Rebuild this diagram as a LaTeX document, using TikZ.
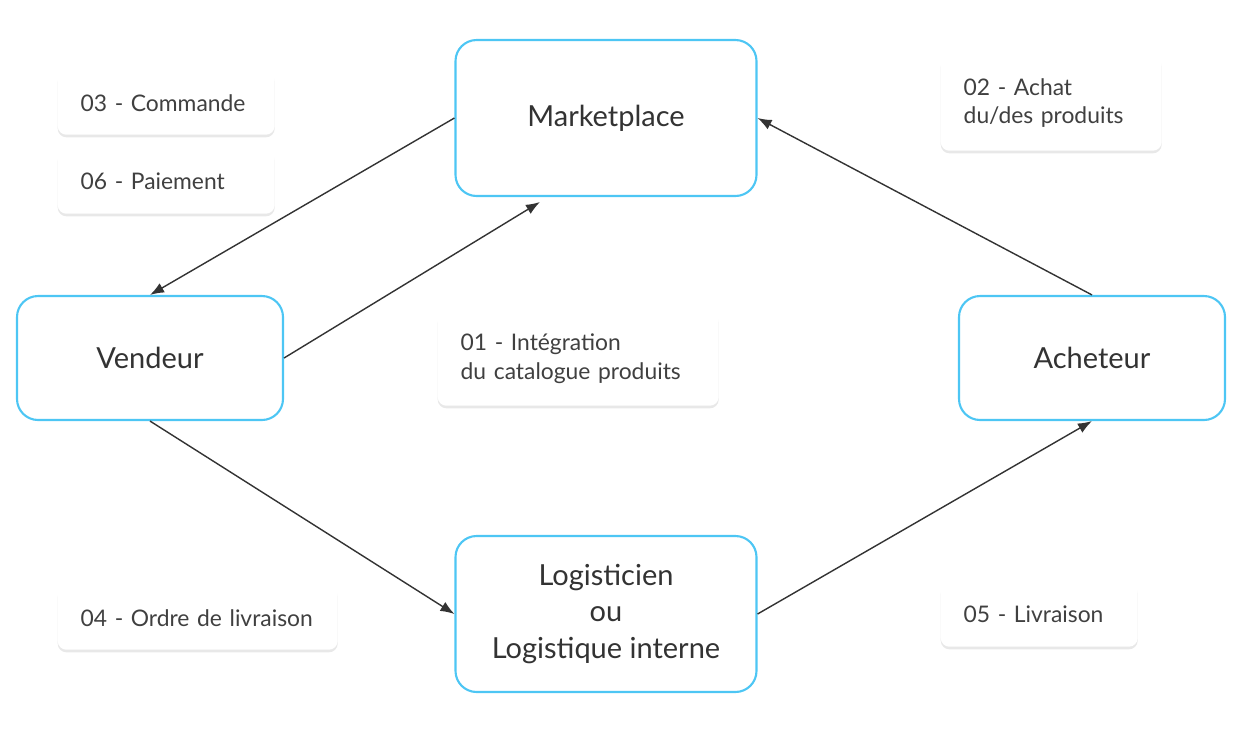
\documentclass[tikz,border=0pt]{standalone}
\usepackage{fontspec}
\setmainfont{Lato}
\usetikzlibrary{positioning,shadows,arrows.meta}

\begin{document}
\begin{tikzpicture}[%
		x=0.02cm,
		y=-0.02cm,
		->,
		>={Latex[length=8pt,width=6pt]},
		thick,
		actor/.style={%
			draw=cyan!70!white,
			line width=1.2pt,
			rounded corners=12pt,
			align=center,
			font=\fontsize{16.5}{20.5}\selectfont,
			text=black!80,
			fill=white
		},
		etape/.style={%
			rounded corners=5pt,
			fill=white,
			align=left,
			anchor=north west,
			inner xsep=23*0.02cm,
			font=\fontsize{13}{16}\selectfont,
			text=black!75,
			drop shadow={opacity=0.18,shadow xshift=0pt,shadow yshift=-1.5pt}
		}
		]
		\useasboundingbox (0,0) rectangle (1245,728);
		\node[actor, minimum width=301*0.02cm, minimum height=156*0.02cm] (market) at (606,118) {Marketplace};
		\node[actor, minimum width=266*0.02cm, minimum height=124*0.02cm] (vendeur) at (150,358) {Vendeur};
		\node[actor, minimum width=266*0.02cm, minimum height=124*0.02cm] (acheteur) at (1092,358) {Acheteur};
		\node[actor, minimum width=301*0.02cm, minimum height=156*0.02cm] (logis) at (606,614) {Logisticien\\ou\\Logistique interne};
		
		% etiquettes
		\node[etape, text width=171*0.02cm, minimum height=64*0.02cm] (cmd) at (57,70) {03 - Commande};
		\node[etape, text width=171*0.02cm, minimum height=64*0.02cm] (paie) at (57,149) {06 - Paiement};
		\node[etape, text width=175*0.02cm, minimum height=95*0.02cm] (achat) at (940,55) {02 - Achat\\du/des produits};
		\node[etape, text width=235*0.02cm, minimum height=94*0.02cm] (integ) at (437,311) {01 - Intégration\\du catalogue produits};
		\node[etape, text width=234*0.02cm, minimum height=64*0.02cm] (ordre) at (57,585) {04 - Ordre de livraison};
		\node[etape, text width=151*0.02cm, minimum height=64*0.02cm] (livr) at (940,582) {05 - Livraison};
		
		\coordinate (mk-in) at (540,202);
		\draw[black!80] (market.west) -- (vendeur.north);
		\draw[black!80] (vendeur.east) -- (mk-in);
		\draw[black!80] (acheteur.north) -- (market.east);
		\draw[black!80] (vendeur.south) -- (logis.west);
		\draw[black!80] (logis.east) -- (acheteur.south);
\end{tikzpicture}
\end{document}
